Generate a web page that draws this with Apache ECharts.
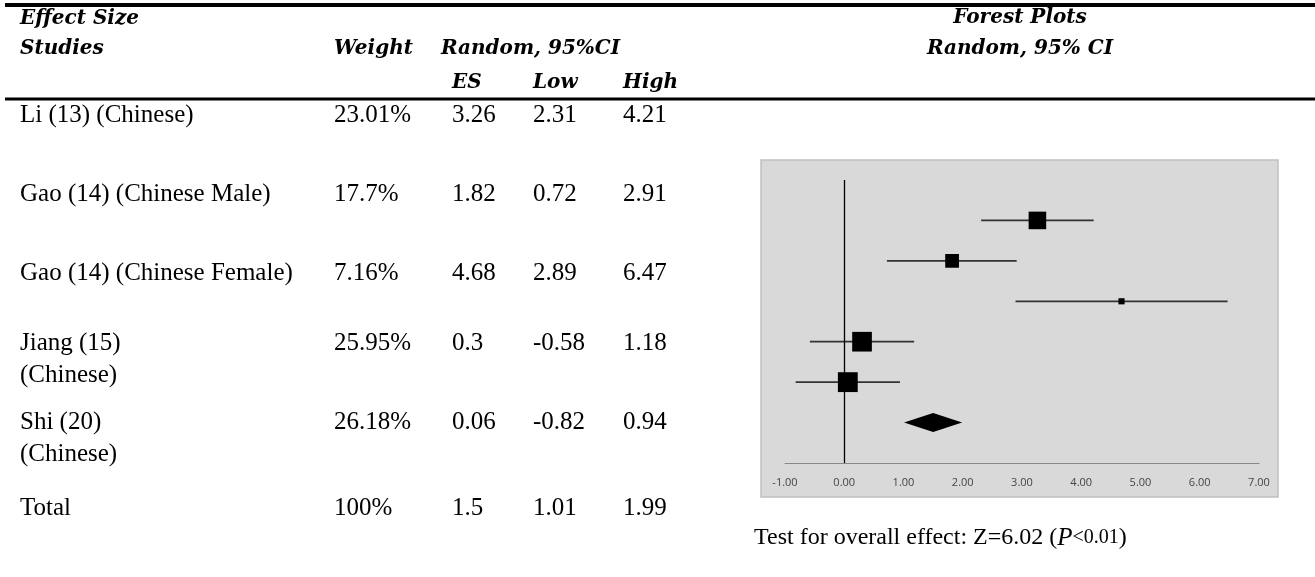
<!DOCTYPE html>
<html>
<head>
<meta charset="utf-8">
<script src="https://cdn.jsdelivr.net/npm/echarts@6/dist/echarts.min.js"></script>
<style>
  html, body { margin: 0; padding: 0; background: #fff; }
  #chart { width: 1315px; height: 577px; }
</style>
</head>
<body>
<div id="chart"></div>
<script>
// study data
const studies = ['Li (13) (Chinese)', 'Gao (14) (Chinese Male)', 'Gao (14) (Chinese Female)', 'Jiang (15)\n(Chinese)', 'Shi (20)\n(Chinese)']
const weights = [23.01, 17.7, 7.16, 25.95, 26.18]
const weightLabels = ['23.01%', '17.7%', '7.16%', '25.95%', '26.18%']
const es = [3.26, 1.82, 4.68, 0.3, 0.06]
const low = [2.31, 0.72, 2.89, -0.58, -0.82]
const high = [4.21, 2.91, 6.47, 1.18, 0.94]

// pooled result
const totalRow = ['Total', '100%']
const totalEs = 1.5
const totalLow = 1.01
const totalHigh = 1.99

// axis
const xTicks = [-1, 0, 1, 2, 3, 4, 5, 6, 7]

const chart = echarts.init(document.getElementById('chart'))

const HEAD_FONT = '"DejaVu Serif", serif'
const BODY_FONT = '"Liberation Serif", "Times New Roman", serif'
const COLS = [20, 334, 452, 533, 623]
const rowY = [115, 194, 273, 343, 422]
const totalY = 508
const LINE_H = 32

const head = (text, x, y, align) => ({
  type: 'text', x, y,
  style: { text, font: 'italic bold 20px ' + HEAD_FONT, fill: '#000', align: align || 'left', verticalAlign: 'middle' }
})
const body = (text, x, y) => ({
  type: 'text', x, y: y - LINE_H / 2,
  style: { text, font: '25px ' + BODY_FONT, fill: '#000', verticalAlign: 'top', lineHeight: LINE_H }
})

const graphics = [
  // rules
  { type: 'rect', shape: { x: 5, y: 3, width: 1310, height: 4 }, style: { fill: '#000' } },
  { type: 'rect', shape: { x: 5, y: 97.5, width: 1310, height: 3 }, style: { fill: '#000' } },
  // plot panel
  { type: 'rect', z: -10, shape: { x: 761, y: 160, width: 517, height: 337 }, style: { fill: '#d9d9d9', stroke: '#c0c0c0', lineWidth: 1.5 } },
  head('Effect Size', 20, 19),
  head('Studies', 20, 49),
  head('Weight', COLS[1], 49),
  head('Random, 95%CI', 441, 49),
  head('ES', COLS[2], 83),
  head('Low', COLS[3], 83),
  head('High', COLS[4], 83),
  head('Forest Plots', 1020, 18, 'center'),
  head('Random, 95% CI', 1020, 49, 'center')
]

studies.forEach((name, i) => {
  const y = rowY[i]
  graphics.push(body(name, COLS[0], y))
  graphics.push(body(weightLabels[i], COLS[1], y))
  graphics.push(body(String(es[i]), COLS[2], y))
  graphics.push(body(String(low[i]), COLS[3], y))
  graphics.push(body(String(high[i]), COLS[4], y))
})
const totVals = [totalRow[0], totalRow[1], String(totalEs), String(totalLow), String(totalHigh)]
totVals.forEach((t, c) => graphics.push(body(t, COLS[c], totalY)))

// overall effect note
graphics.push({
  type: 'text', x: 754, y: 538,
  style: {
    text: 'Test for overall effect: Z=6.02 ({i|P}{s|<0.01})',
    font: '24px ' + BODY_FONT, fill: '#000', verticalAlign: 'middle',
    rich: {
      i: { fontFamily: BODY_FONT, fontStyle: 'italic', fontSize: 25 },
      s: { fontFamily: BODY_FONT, fontSize: 20 }
    }
  }
})

const option = {
  animation: false,
  grid: { left: 785, right: 56, top: 180, bottom: 114 },
  xAxis: {
    type: 'value', min: xTicks[0], max: xTicks[xTicks.length - 1], interval: 1,
    splitLine: { show: false },
    axisTick: { show: false },
    axisLine: { onZero: false, lineStyle: { color: '#888', width: 1 } },
    axisLabel: { color: '#444', fontFamily: 'Open Sans', fontSize: 11, margin: 14, formatter: v => v.toFixed(2) }
  },
  yAxis: { type: 'value', inverse: true, min: -1, max: 6, show: false },
  graphic: graphics,
  series: [
    {
      type: 'custom',
      data: es.map((v, i) => [v, i, low[i], high[i], weights[i]]),
      encode: { x: [0, 2, 3], y: 1 },
      renderItem: (params, api) => {
        const c = api.coord([api.value(0), api.value(1)])
        const l = api.coord([api.value(2), api.value(1)])
        const h = api.coord([api.value(3), api.value(1)])
        const s = 0.72 * api.value(4) + 1
        return {
          type: 'group',
          children: [
            { type: 'line', shape: { x1: l[0], y1: c[1], x2: h[0], y2: c[1] }, style: { stroke: '#333', lineWidth: 1.7 } },
            { type: 'rect', shape: { x: c[0] - s / 2, y: c[1] - s / 2, width: s, height: s }, style: { fill: '#000' } }
          ]
        }
      },
      markLine: {
        silent: true,
        symbol: 'none',
        label: { show: false },
        lineStyle: { color: '#000', width: 1.3, type: 'solid' },
        data: [{ xAxis: 0 }]
      }
    },
    {
      type: 'custom',
      data: [[totalEs, studies.length, totalLow, totalHigh]],
      encode: { x: [0, 2, 3], y: 1 },
      renderItem: (params, api) => {
        const c = api.coord([api.value(0), api.value(1)])
        const l = api.coord([api.value(2), api.value(1)])
        const h = api.coord([api.value(3), api.value(1)])
        return {
          type: 'polygon',
          shape: { points: [[l[0], c[1]], [c[0], c[1] - 9.5], [h[0], c[1]], [c[0], c[1] + 9.5]] },
          style: { fill: '#000' }
        }
      }
    }
  ]
}

chart.setOption(option)
window.addEventListener('resize', () => chart.resize())
</script>
</body>
</html>
